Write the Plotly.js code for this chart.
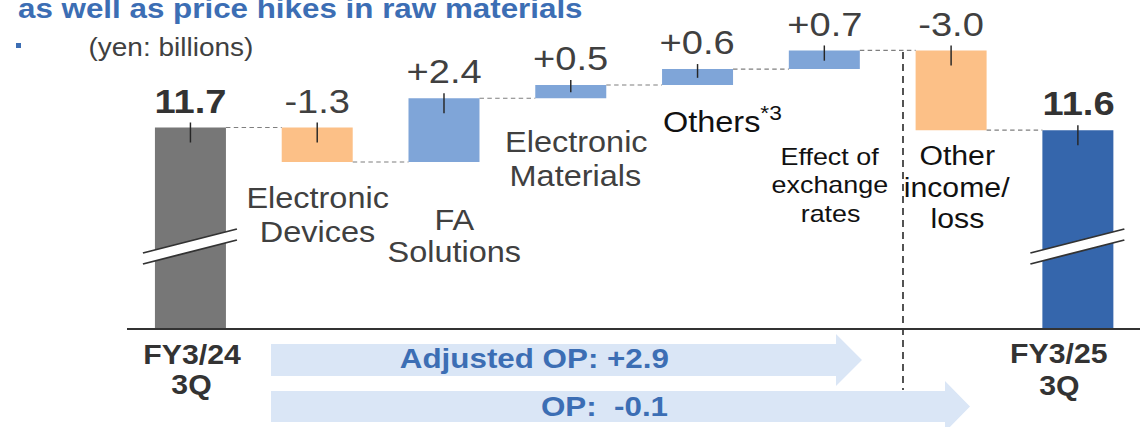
<!DOCTYPE html>
<html>
<head>
<meta charset="utf-8">
<script src="https://cdn.plot.ly/plotly-3.0.1.min.js"></script>
<style>
  html, body { margin: 0; padding: 0; background: #ffffff; overflow: hidden; }
  #wrap { width: 1140px; height: 427px; overflow: hidden; }
  /* the slide artwork is drawn slightly wide: render at 1018px and stretch horizontally */
  #chart { width: 1018px; height: 427px; transform: scaleX(1.11984); transform-origin: 0 0; }
</style>
</head>
<body>
<div id="wrap"><div id="chart"></div></div>
<script>
// ---- data (yen: billions) ----
const categoryLines = [
  ["FY3/24", "3Q"],
  ["Electronic", "Devices"],
  ["FA", "Solutions"],
  ["Electronic", "Materials"],
  ["Others<sup>*3</sup>"],
  ["Effect of", "exchange", "rates"],
  ["Other", "income/", "loss"],
  ["FY3/25", "3Q"]
];
const startValue = 11.7;                          // FY3/24 3Q operating profit
const changes = [-1.3, 2.4, 0.5, 0.6, 0.7, -3.0];  // factors, in category order
const endValue = 11.6;                            // FY3/25 3Q operating profit
const adjustedCount = 5;                          // first five factors make up adjusted OP
const titleText = "as well as price hikes in raw materials";
const unitText = "(yen: billions)";

// ---- geometry helpers ----
const S = 1140 / 1018;               // horizontal stretch of the page
const W = 1018, H = 427;
const ML = 113, MB = 99;
const PW = W - ML, PH = H - MB;      // plot area size (unstretched px)
const Y0 = 4.15, Y1 = 16.5;          // broken value axis
const PXU = PH / (Y1 - Y0);          // px per unit
const XR = [-0.504, 7.49];
const XU = PW / (XR[1] - XR[0]);     // px per category step (unstretched)

const xp = xs => (xs / S - ML) / PW;      // page px (stretched) -> paper x
const yp = py => 1 - py / PH;             // page px -> paper y
const yv = py => Y1 - py / PXU;           // page px -> value
const dxu = dxs => dxs / S / XU;          // stretched px offset -> category units

const FONT = 'Arial, "Liberation Sans", sans-serif';
const C_GRAY = '#777777', C_NAVY = '#3566ac', C_UP = '#7fa5d8', C_DOWN = '#fcc087';
const C_TEXT = '#404040', C_DARK = '#111111', C_BLUE = '#3c6eb4', C_ARROW = '#dae6f6';

// cumulative levels
const bases = [];
let level = startValue;
changes.forEach(d => { bases.push(level); level += d; });
const levels = [startValue];
changes.forEach((d, i) => levels.push(bases[i] + d));
levels.push(endValue);

const n = categoryLines.length;
const changeX = changes.map((_, i) => i + 1);

const traces = [
  {
    type: 'bar', x: [0, n - 1], y: [startValue, endValue], base: [0, 0],
    width: 0.56, marker: { color: [C_GRAY, C_NAVY], line: { width: 0 } },
    hoverinfo: 'skip', showlegend: false
  },
  {
    type: 'bar', x: changeX, y: changes, base: bases,
    width: 0.56, marker: { color: changes.map(d => d >= 0 ? C_UP : C_DOWN), line: { width: 0 } },
    hoverinfo: 'skip', showlegend: false
  }
];

const shapes = [];
const annotations = [];

// connectors between consecutive bars
for (let i = 0; i < n - 1; i++) {
  shapes.push({
    type: 'line', xref: 'x', yref: 'y',
    x0: i + 0.28, x1: i + 1 - 0.28, y0: levels[i], y1: levels[i],
    line: { color: '#7f7f7f', width: 1.2, dash: '4px,3px' }
  });
}

// short marker line at the top of every bar
const tops = [startValue, ...changes.map((d, i) => Math.max(bases[i], bases[i] + d)), endValue];
const heightsPx = [99, ...changes.map(d => Math.abs(d) * PXU), 99];
tops.forEach((t, i) => {
  const down = Math.min(15, heightsPx[i] * 0.55);
  shapes.push({
    type: 'line', xref: 'x', yref: 'y', x0: i, x1: i,
    y0: t + 5 / PXU, y1: t - down / PXU,
    line: { color: '#262626', width: 1.3 }
  });
});

// axis-break marks on the two total bars
[0, n - 1].forEach(i => {
  const xL = i + dxu(-47.5), xR = i + dxu(46.5);
  const a = [xL, yv(253)], b = [xR, yv(229)], c = [xR, yv(240)], d = [xL, yv(264)];
  shapes.push({
    type: 'path', xref: 'x', yref: 'y',
    path: `M${a[0]},${a[1]} L${b[0]},${b[1]} L${c[0]},${c[1]} L${d[0]},${d[1]} Z`,
    fillcolor: '#ffffff', line: { width: 0 }
  });
  shapes.push({
    type: 'path', xref: 'x', yref: 'y',
    path: `M${a[0]},${a[1]} L${b[0]},${b[1]} M${d[0]},${d[1]} L${c[0]},${c[1]}`,
    line: { color: '#333333', width: 1.8 }
  });
});

// divider between adjusted OP factors and other income/loss
shapes.push({
  type: 'line', xref: 'paper', yref: 'paper',
  x0: xp(903), x1: xp(903), y0: yp(52), y1: yp(390),
  line: { color: '#333333', width: 1.5, dash: '7px,5px' }
});

// block arrows under the axis
function arrowPath(x0, xHead, xTip, yTop, yBot, spread) {
  const ym = (yTop + yBot) / 2;
  const pts = [[x0, yTop], [xHead, yTop], [xHead, yTop - spread], [xTip, ym],
               [xHead, yBot + spread], [xHead, yBot], [x0, yBot]];
  return 'M' + pts.map(p => xp(p[0]) + ',' + yp(p[1])).join(' L') + ' Z';
}
shapes.push({ type: 'path', xref: 'paper', yref: 'paper', path: arrowPath(271, 836, 862, 344, 376, 10), fillcolor: C_ARROW, line: { width: 0 } });
shapes.push({ type: 'path', xref: 'paper', yref: 'paper', path: arrowPath(271, 945, 970, 391, 422, 10), fillcolor: C_ARROW, line: { width: 0 } });

// bullet beside the unit note
shapes.push({ type: 'rect', xref: 'paper', yref: 'paper', x0: xp(16), x1: xp(21), y0: yp(43), y1: yp(48), fillcolor: C_BLUE, line: { width: 0 } });

// value labels above bars
const fmtDelta = d => (d > 0 ? '+' : '') + d.toFixed(1);
const valueTexts = ['<b>' + startValue.toFixed(1) + '</b>', ...changes.map(fmtDelta), '<b>' + endValue.toFixed(1) + '</b>'];
valueTexts.forEach((txt, i) => {
  const fs = 34;
  annotations.push({
    xref: 'x', yref: 'y', x: i, y: tops[i], xanchor: 'center', yanchor: 'middle',
    yshift: 15 + 0.35 * fs, text: txt, showarrow: false,
    font: { family: FONT, size: fs, color: (i === 0 || i === n - 1) ? '#333333' : C_TEXT }
  });
});

// category labels, one annotation per line (baseline-positioned)
const labelStyle = [
  { dx: 1.5,  base: [364, 394],      size: 27, bold: true, color: '#333333' },
  { dx: 0,    base: [208, 242],      size: 29, color: C_TEXT },
  { dx: 10.5, base: [230, 262],      size: 29, color: C_TEXT },
  { dx: 5,    base: [152, 186],      size: 29, color: C_TEXT },
  { dx: 25,   base: [130],           size: 29, color: C_DARK },
  { dx: 5.5,  base: [165, 193, 222], size: 24, color: C_DARK },
  { dx: 6,    base: [165, 197, 228], size: 27, color: C_DARK },
  { dx: -19,  base: [363, 395],      size: 27, bold: true, color: '#333333' }
];
categoryLines.forEach((lines, i) => {
  const st = labelStyle[i];
  lines.forEach((ln, k) => {
    annotations.push({
      xref: 'x', yref: 'paper', x: i + dxu(st.dx), y: yp(st.base[k] - 0.35 * st.size),
      xanchor: 'center', yanchor: 'middle', showarrow: false,
      text: st.bold ? '<b>' + ln + '</b>' : ln,
      font: { family: FONT, size: st.size, color: st.color }
    });
  });
});

// arrow captions, computed from the factors
const adjusted = changes.slice(0, adjustedCount).reduce((s, d) => s + d, 0);
const opDiff = endValue - startValue;
annotations.push({
  xref: 'paper', yref: 'paper', x: xp(671), y: yp(368 - 0.35 * 28), xanchor: 'right', yanchor: 'middle',
  showarrow: false, text: '<b>Adjusted OP: ' + fmtDelta(adjusted) + '</b>',
  font: { family: FONT, size: 28, color: C_BLUE }
});
annotations.push({
  xref: 'paper', yref: 'paper', x: xp(671), y: yp(416 - 0.35 * 28), xanchor: 'right', yanchor: 'middle',
  showarrow: false, text: '<b>OP:\u00a0 ' + fmtDelta(opDiff) + '</b>',
  font: { family: FONT, size: 28, color: C_BLUE }
});

// heading line and unit note
annotations.push({
  xref: 'paper', yref: 'paper', x: xp(16), y: yp(18 - 0.35 * 28), xanchor: 'left', yanchor: 'middle',
  showarrow: false, text: '<b>' + titleText + '</b>',
  font: { family: FONT, size: 28, color: C_BLUE }
});
annotations.push({
  xref: 'paper', yref: 'paper', x: xp(86), y: yp(56 - 0.35 * 25), xanchor: 'left', yanchor: 'middle',
  showarrow: false, text: unitText,
  font: { family: FONT, size: 25, color: C_TEXT }
});

const layout = {
  width: W, height: H, autosize: false,
  margin: { l: ML, r: 0, t: 0, b: MB, pad: 0 },
  paper_bgcolor: '#ffffff', plot_bgcolor: '#ffffff',
  barmode: 'overlay', hovermode: false, showlegend: false,
  xaxis: {
    range: XR, showgrid: false, zeroline: false, showticklabels: false, ticks: '',
    showline: true, linecolor: '#333333', linewidth: 2, fixedrange: true
  },
  yaxis: { range: [Y0, Y1], visible: false, fixedrange: true },
  shapes: shapes,
  annotations: annotations
};

Plotly.newPlot('chart', traces, layout, { staticPlot: true, displayModeBar: false });
</script>
</body>
</html>
